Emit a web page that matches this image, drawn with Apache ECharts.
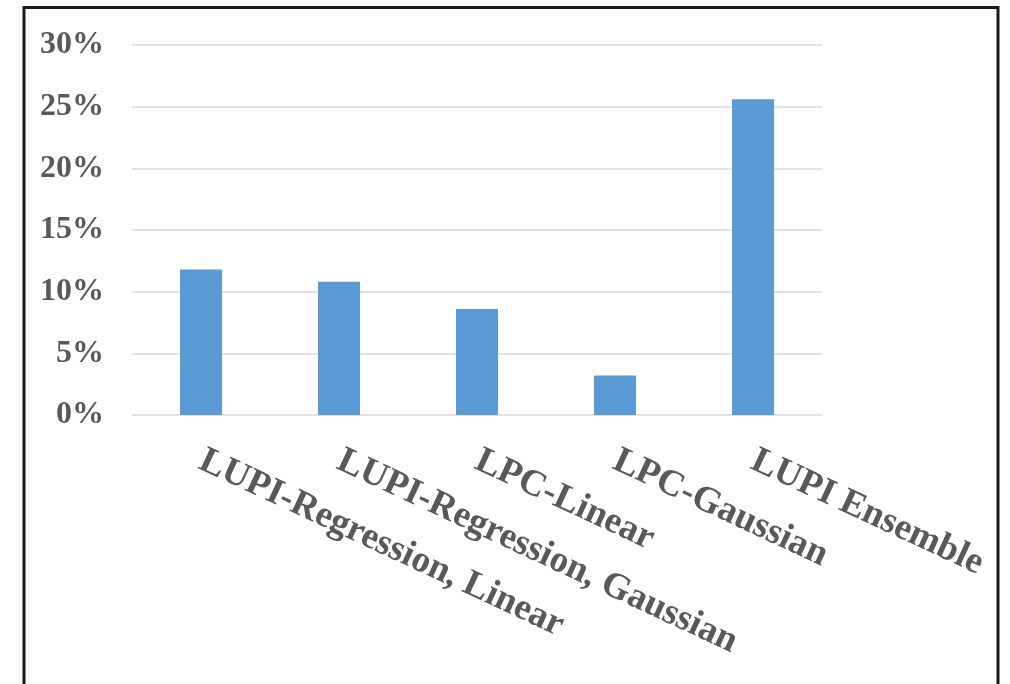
<!DOCTYPE html>
<html>
<head>
<meta charset="utf-8">
<script src="https://cdn.jsdelivr.net/npm/echarts@6/dist/echarts.min.js"></script>
<style>
html,body{margin:0;padding:0;background:#fff;}
#chart{width:1010px;height:684px;}
</style>
</head>
<body>
<div id="chart"></div>
<script>
const categories = ["LUPI-Regression, Linear", "LUPI-Regression, Gaussian", "LPC-Linear", "LPC-Gaussian", "LUPI Ensemble"];
const values = [11.8, 10.8, 8.6, 3.2, 25.6];
const yTicks = [0, 5, 10, 15, 20, 25, 30];

const chart = echarts.init(document.getElementById('chart'), null, {renderer: 'canvas'});
chart.setOption({
  animation: false,
  backgroundColor: '#ffffff',
  grid: {left: 132, right: 188, top: 45, bottom: 269, containLabel: false},
  xAxis: {
    type: 'category',
    data: categories,
    axisLine: {show: false},
    axisTick: {show: false},
    axisLabel: {
      interval: 0,
      rotate: -25,
      margin: 44,
      color: '#595959',
      fontFamily: '"Liberation Serif", "Times New Roman", serif',
      fontWeight: 'bold',
      fontSize: 37
    }
  },
  yAxis: {
    type: 'value',
    min: yTicks[0],
    max: yTicks[yTicks.length - 1],
    interval: 5,
    axisLine: {show: false},
    axisTick: {show: false},
    splitLine: {lineStyle: {color: '#d9d9d9', width: 1.5}},
    axisLabel: {
      margin: 28,
      color: '#595959',
      fontFamily: '"Liberation Serif", "Times New Roman", serif',
      fontWeight: 'bold',
      fontSize: 32,
      formatter: v => v + '%'
    }
  },
  series: [{
    type: 'bar',
    data: values,
    barWidth: 42,
    itemStyle: {color: '#5b9bd5'}
  }],
  graphic: [{
    type: 'rect',
    silent: true,
    shape: {x: 24, y: 7.5, width: 974, height: 700},
    style: {fill: 'none', stroke: '#1a1a1a', lineWidth: 3}
  }]
});
</script>
</body>
</html>
